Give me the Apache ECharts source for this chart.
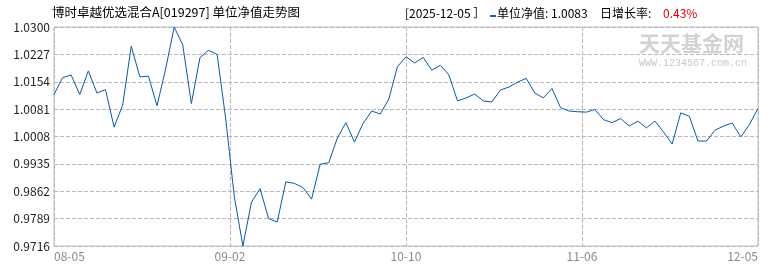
<!DOCTYPE html>
<html>
<head>
<meta charset="utf-8">
<script src="https://cdn.jsdelivr.net/npm/echarts@6/dist/echarts.min.js"></script>
<style>
html,body{margin:0;padding:0;background:#fff;}
#chart{width:770px;height:270px;}
</style>
</head>
<body>
<div id="chart"></div>
<script>
var fundTitle = '博时卓越优选混合A[019297] 单位净值走势图';
var dates = [
 '2025-08-05','2025-08-06','2025-08-07','2025-08-08',
 '2025-08-11','2025-08-12','2025-08-13','2025-08-14','2025-08-15',
 '2025-08-18','2025-08-19','2025-08-20','2025-08-21','2025-08-22',
 '2025-08-25','2025-08-26','2025-08-27','2025-08-28','2025-08-29',
 '2025-09-01','2025-09-02','2025-09-03','2025-09-04','2025-09-05',
 '2025-09-08','2025-09-09','2025-09-10','2025-09-11','2025-09-12',
 '2025-09-15','2025-09-16','2025-09-17','2025-09-18','2025-09-19',
 '2025-09-22','2025-09-23','2025-09-24','2025-09-25','2025-09-26',
 '2025-09-29','2025-09-30','2025-10-09','2025-10-10',
 '2025-10-13','2025-10-14','2025-10-15','2025-10-16','2025-10-17',
 '2025-10-20','2025-10-21','2025-10-22','2025-10-23','2025-10-24',
 '2025-10-27','2025-10-28','2025-10-29','2025-10-30','2025-10-31',
 '2025-11-03','2025-11-04','2025-11-05','2025-11-06','2025-11-07',
 '2025-11-10','2025-11-11','2025-11-12','2025-11-13','2025-11-14',
 '2025-11-17','2025-11-18','2025-11-19','2025-11-20','2025-11-21',
 '2025-11-24','2025-11-25','2025-11-26','2025-11-27','2025-11-28',
 '2025-12-01','2025-12-02','2025-12-03','2025-12-04','2025-12-05'
];
var navValues = [
 1.0120,1.0165,1.0172,1.0120,1.0183,1.0124,1.0133,1.0033,1.0092,1.0249,
 1.0167,1.0169,1.0090,1.0188,1.0300,1.0252,1.0096,1.0218,1.0238,1.0227,
 1.0055,0.9848,0.9716,0.9833,0.9869,0.9789,0.9780,0.9887,0.9883,0.9872,
 0.9841,0.9934,0.9938,1.0004,1.0045,0.9993,1.0043,1.0076,1.0068,1.0108,
 1.0194,1.0221,1.0204,1.0219,1.0185,1.0198,1.0172,1.0103,1.0111,1.0121,
 1.0103,1.0100,1.0132,1.0140,1.0153,1.0163,1.0124,1.0111,1.0136,1.0085,
 1.0076,1.0074,1.0073,1.0080,1.0053,1.0045,1.0056,1.0036,1.0049,1.0031,
 1.0049,1.0020,0.9988,1.0071,1.0062,0.9996,0.9996,1.0025,1.0036,1.0044,
 1.0007,1.0040,1.0083
];
var yTicks = ['0.9716','0.9789','0.9862','0.9935','1.0008','1.0081','1.0154','1.0227','1.0300'];
var xTicks = ['08-05','09-02','10-10','11-06','12-05'];

var FONT = '"Noto Sans CJK SC", "Noto Sans", sans-serif';
var chart = echarts.init(document.getElementById('chart'), null, {renderer: 'canvas'});

var n = navValues.length;
var lastVal = navValues[n - 1];
var growth = ((lastVal / navValues[n - 2] - 1) * 100).toFixed(2) + '%';
var lastDate = dates[n - 1];

var gridDash = {color: '#b8b8b8', type: [4, 2], width: 1};

var option = {
  animation: false,
  textStyle: {fontFamily: FONT},
  grid: {left: 54, right: 12, top: 27, bottom: 24, show: true, borderColor: '#bdbdbd', borderWidth: 1, backgroundColor: 'transparent'},
  xAxis: [
    {type: 'category', data: dates, boundaryGap: false, show: false},
    {type: 'value', min: 0, max: xTicks.length - 1, interval: 1, position: 'bottom',
     axisLine: {show: false}, axisTick: {show: false},
     splitLine: {show: true, lineStyle: gridDash},
     axisLabel: {color: '#8a8a8a', fontSize: 12, margin: 4, fontFamily: FONT,
       alignMinLabel: 'left', alignMaxLabel: 'right',
       formatter: function (v) { return xTicks[Math.round(v)]; }}}
  ],
  yAxis: [
    {type: 'value', min: 0, max: yTicks.length - 1, interval: 1,
     axisLine: {show: false}, axisTick: {show: false},
     splitLine: {show: true, lineStyle: gridDash},
     axisLabel: {color: '#222', fontSize: 12, margin: 4, fontFamily: FONT,
       formatter: function (v) { return yTicks[Math.round(v)]; }}},
    {type: 'value', min: parseFloat(yTicks[0]), max: parseFloat(yTicks[yTicks.length - 1]), show: false, splitLine: {show: false}}
  ],
  graphic: [
    {type: 'text', left: 52, top: 6, z: 10, style: {text: fundTitle, font: '12.5px ' + FONT, fill: '#000'}},
    {type: 'text', left: 405, top: 7, z: 10, style: {text: '[' + lastDate + ' ］', font: '12px ' + FONT, fill: '#000'}},
    {type: 'rect', left: 490, top: 15, z: 10, shape: {width: 6, height: 2}, style: {fill: '#1a5ea8'}},
    {type: 'text', left: 497, top: 7, z: 10, style: {text: '单位净值: ' + lastVal.toFixed(4), font: '12px ' + FONT, fill: '#000'}},
    {type: 'text', left: 600, top: 7, z: 10, style: {text: '日增长率: ', font: '12px ' + FONT, fill: '#000'}},
    {type: 'text', left: 663, top: 7, z: 10, style: {text: growth, font: '12px ' + FONT, fill: '#e00000'}},
    {type: 'text', left: 639, top: 33, z: 0, style: {text: '天天基金网', font: 'bold 21px ' + FONT, fill: '#d2d2d2'}},
    {type: 'text', left: 639, top: 58, z: 0, style: {text: 'WWW.1234567.com.cn', font: '10px "Liberation Mono", monospace', fill: '#c8c8c8'}}
  ],
  series: [{
    type: 'line', xAxisIndex: 0, yAxisIndex: 1,
    data: navValues, symbol: 'none', smooth: false,
    lineStyle: {color: '#0b5aa8', width: 1}
  }]
};
chart.setOption(option);
</script>
</body>
</html>
